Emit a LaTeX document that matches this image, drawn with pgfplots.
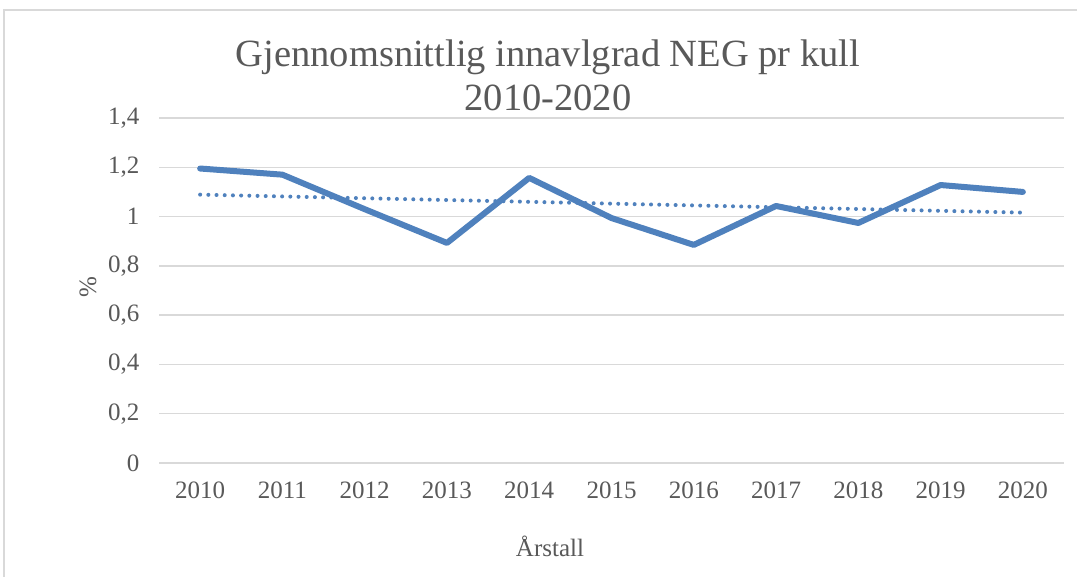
\documentclass[border=0pt]{standalone}
\usepackage{pgfplots}
\pgfplotsset{compat=1.18}
\usepackage{fontspec}
\setmainfont{Liberation Serif}
\definecolor{txt}{HTML}{595959}
\definecolor{gridc}{HTML}{D9D9D9}
\definecolor{line}{HTML}{4F81BD}
\begin{document}
\begin{tikzpicture}
\useasboundingbox (0pt,0pt) rectangle (1077pt,577pt);
\fill[white] (0pt,0pt) rectangle (1077pt,577pt);
\draw[gridc,line width=1.2pt] (4pt,-5pt) -- (4pt,567pt) -- (1090pt,567pt);
\begin{axis}[
  at={(159pt,114pt)}, anchor=south west,
  scale only axis, width=905pt, height=345pt,
  xmin=-0.5, xmax=10.5, ymin=0, ymax=1.4,
  axis line style={draw=none},
  xtick={0,...,10},
  xticklabels={2010,2011,2012,2013,2014,2015,2016,2017,2018,2019,2020},
  ytick={0,0.2,0.4,0.6,0.8,1,1.2,1.4},
  yticklabels={0,{0,2},{0,4},{0,6},{0,8},1,{1,2},{1,4}},
  major tick length=0pt,
  ymajorgrids, grid style={gridc,line width=1.5pt},
  tick label style={font=\fontsize{25}{28}\selectfont, text=txt},
  yticklabel style={xshift=-16pt},
  xticklabel style={yshift=-15pt},
  clip=false,
]
\addplot[line, line width=6pt, line join=round, line cap=round] coordinates {
 (0,1.195) (1,1.17) (2,1.03) (3,0.893) (4,1.157) (5,0.994) (6,0.885) (7,1.043) (8,0.974) (9,1.128) (10,1.10)
};
\addplot[line, line width=4pt, line cap=round, dash pattern=on 0pt off 8.2pt] coordinates {
 (0,1.089) (10,1.016)
};
\end{axis}
\node[text=txt, font=\fontsize{38.5}{42}\selectfont, anchor=base] at (548pt,510pt) {Gjennomsnittlig innavlgrad NEG pr kull};
\node[text=txt, font=\fontsize{38.5}{42}\selectfont, anchor=base] at (548pt,466pt) {2010-2020};
\node[text=txt, font=\fontsize{25}{28}\selectfont, rotate=90] at (88pt,290pt) {\%};
\node[text=txt, font=\fontsize{25}{28}\selectfont] at (550pt,31pt) {Årstall};
\end{tikzpicture}
\end{document}
